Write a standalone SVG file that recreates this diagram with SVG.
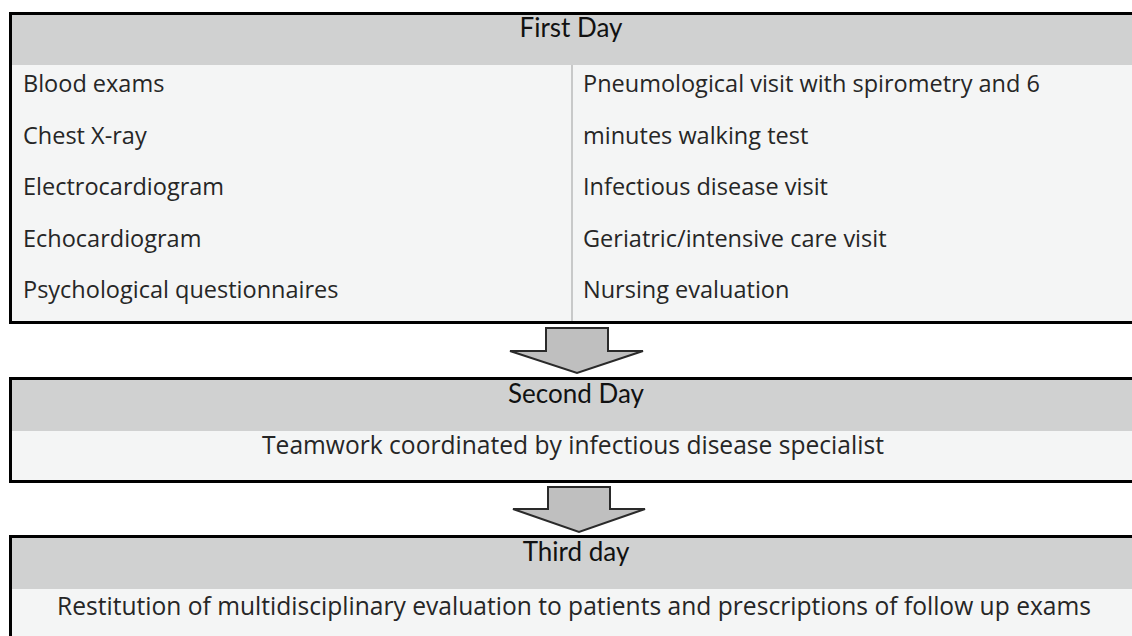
<svg xmlns="http://www.w3.org/2000/svg" width="1132" height="636" viewBox="0 0 1132 636">
<style>
.box{stroke:#000;stroke-width:3;fill:none}
.hdr{fill:#d0d1d1}
.body{fill:#f4f5f5}
.t{font-family:"Open Sans","Liberation Sans",sans-serif;font-size:23.5px;fill:#262626}
.h{font-family:Lato,"Liberation Sans",sans-serif;font-size:26px;fill:#111;text-anchor:middle}
.c{text-anchor:middle;font-size:24.6px}
.arrow{fill:#bfbfbf;stroke:#2a2a2a;stroke-width:2;stroke-linejoin:miter}
</style>
<rect width="1132" height="636" fill="#fff"/>
<g id="first-day">
<rect class="body" x="10" y="13" width="1130" height="310"/>
<rect class="hdr" x="10" y="13" width="1130" height="52"/>
<line x1="572" y1="65" x2="572" y2="322" stroke="#c8c9c9" stroke-width="2"/>
<rect class="box" x="10.5" y="13.5" width="1130" height="309"/>
<text class="h" x="571" y="37">First Day</text>
<text class="t" x="23" y="92">Blood exams</text>
<text class="t" x="23" y="144">Chest X-ray</text>
<text class="t" x="23" y="195">Electrocardiogram</text>
<text class="t" x="23" y="247">Echocardiogram</text>
<text class="t" x="23" y="298">Psychological questionnaires</text>
<text class="t" x="583" y="92">Pneumological visit with spirometry and 6</text>
<text class="t" x="583" y="144">minutes walking test</text>
<text class="t" x="583" y="195">Infectious disease visit</text>
<text class="t" x="583" y="247">Geriatric/intensive care visit</text>
<text class="t" x="583" y="298">Nursing evaluation</text>
</g>
<g id="second-day">
<rect class="body" x="10" y="378" width="1130" height="104"/>
<rect class="hdr" x="10" y="378" width="1130" height="53"/>
<rect class="box" x="10.5" y="378.5" width="1130" height="103"/>
<text class="h" x="576" y="403">Second Day</text>
<text class="t c" x="573" y="454">Teamwork coordinated by infectious disease specialist</text>
</g>
<g id="third-day">
<rect class="body" x="10" y="536" width="1130" height="120"/>
<rect class="hdr" x="10" y="536" width="1130" height="53"/>
<rect class="box" x="10.5" y="536.5" width="1130" height="120"/>
<text class="h" x="576" y="561">Third day</text>
<text class="t c" x="574" y="615">Restitution of multidisciplinary evaluation to patients and prescriptions of follow up exams</text>
</g>
<g id="connectors">
<path class="arrow" d="M546,328 L608,328 L608,351 L643,351 L577,373 L510,351 L546,351 Z"/>
<path class="arrow" d="M548,487 L610,487 L610,509 L645,509 L579,532 L513,509 L548,509 Z"/>
</g>
</svg>
